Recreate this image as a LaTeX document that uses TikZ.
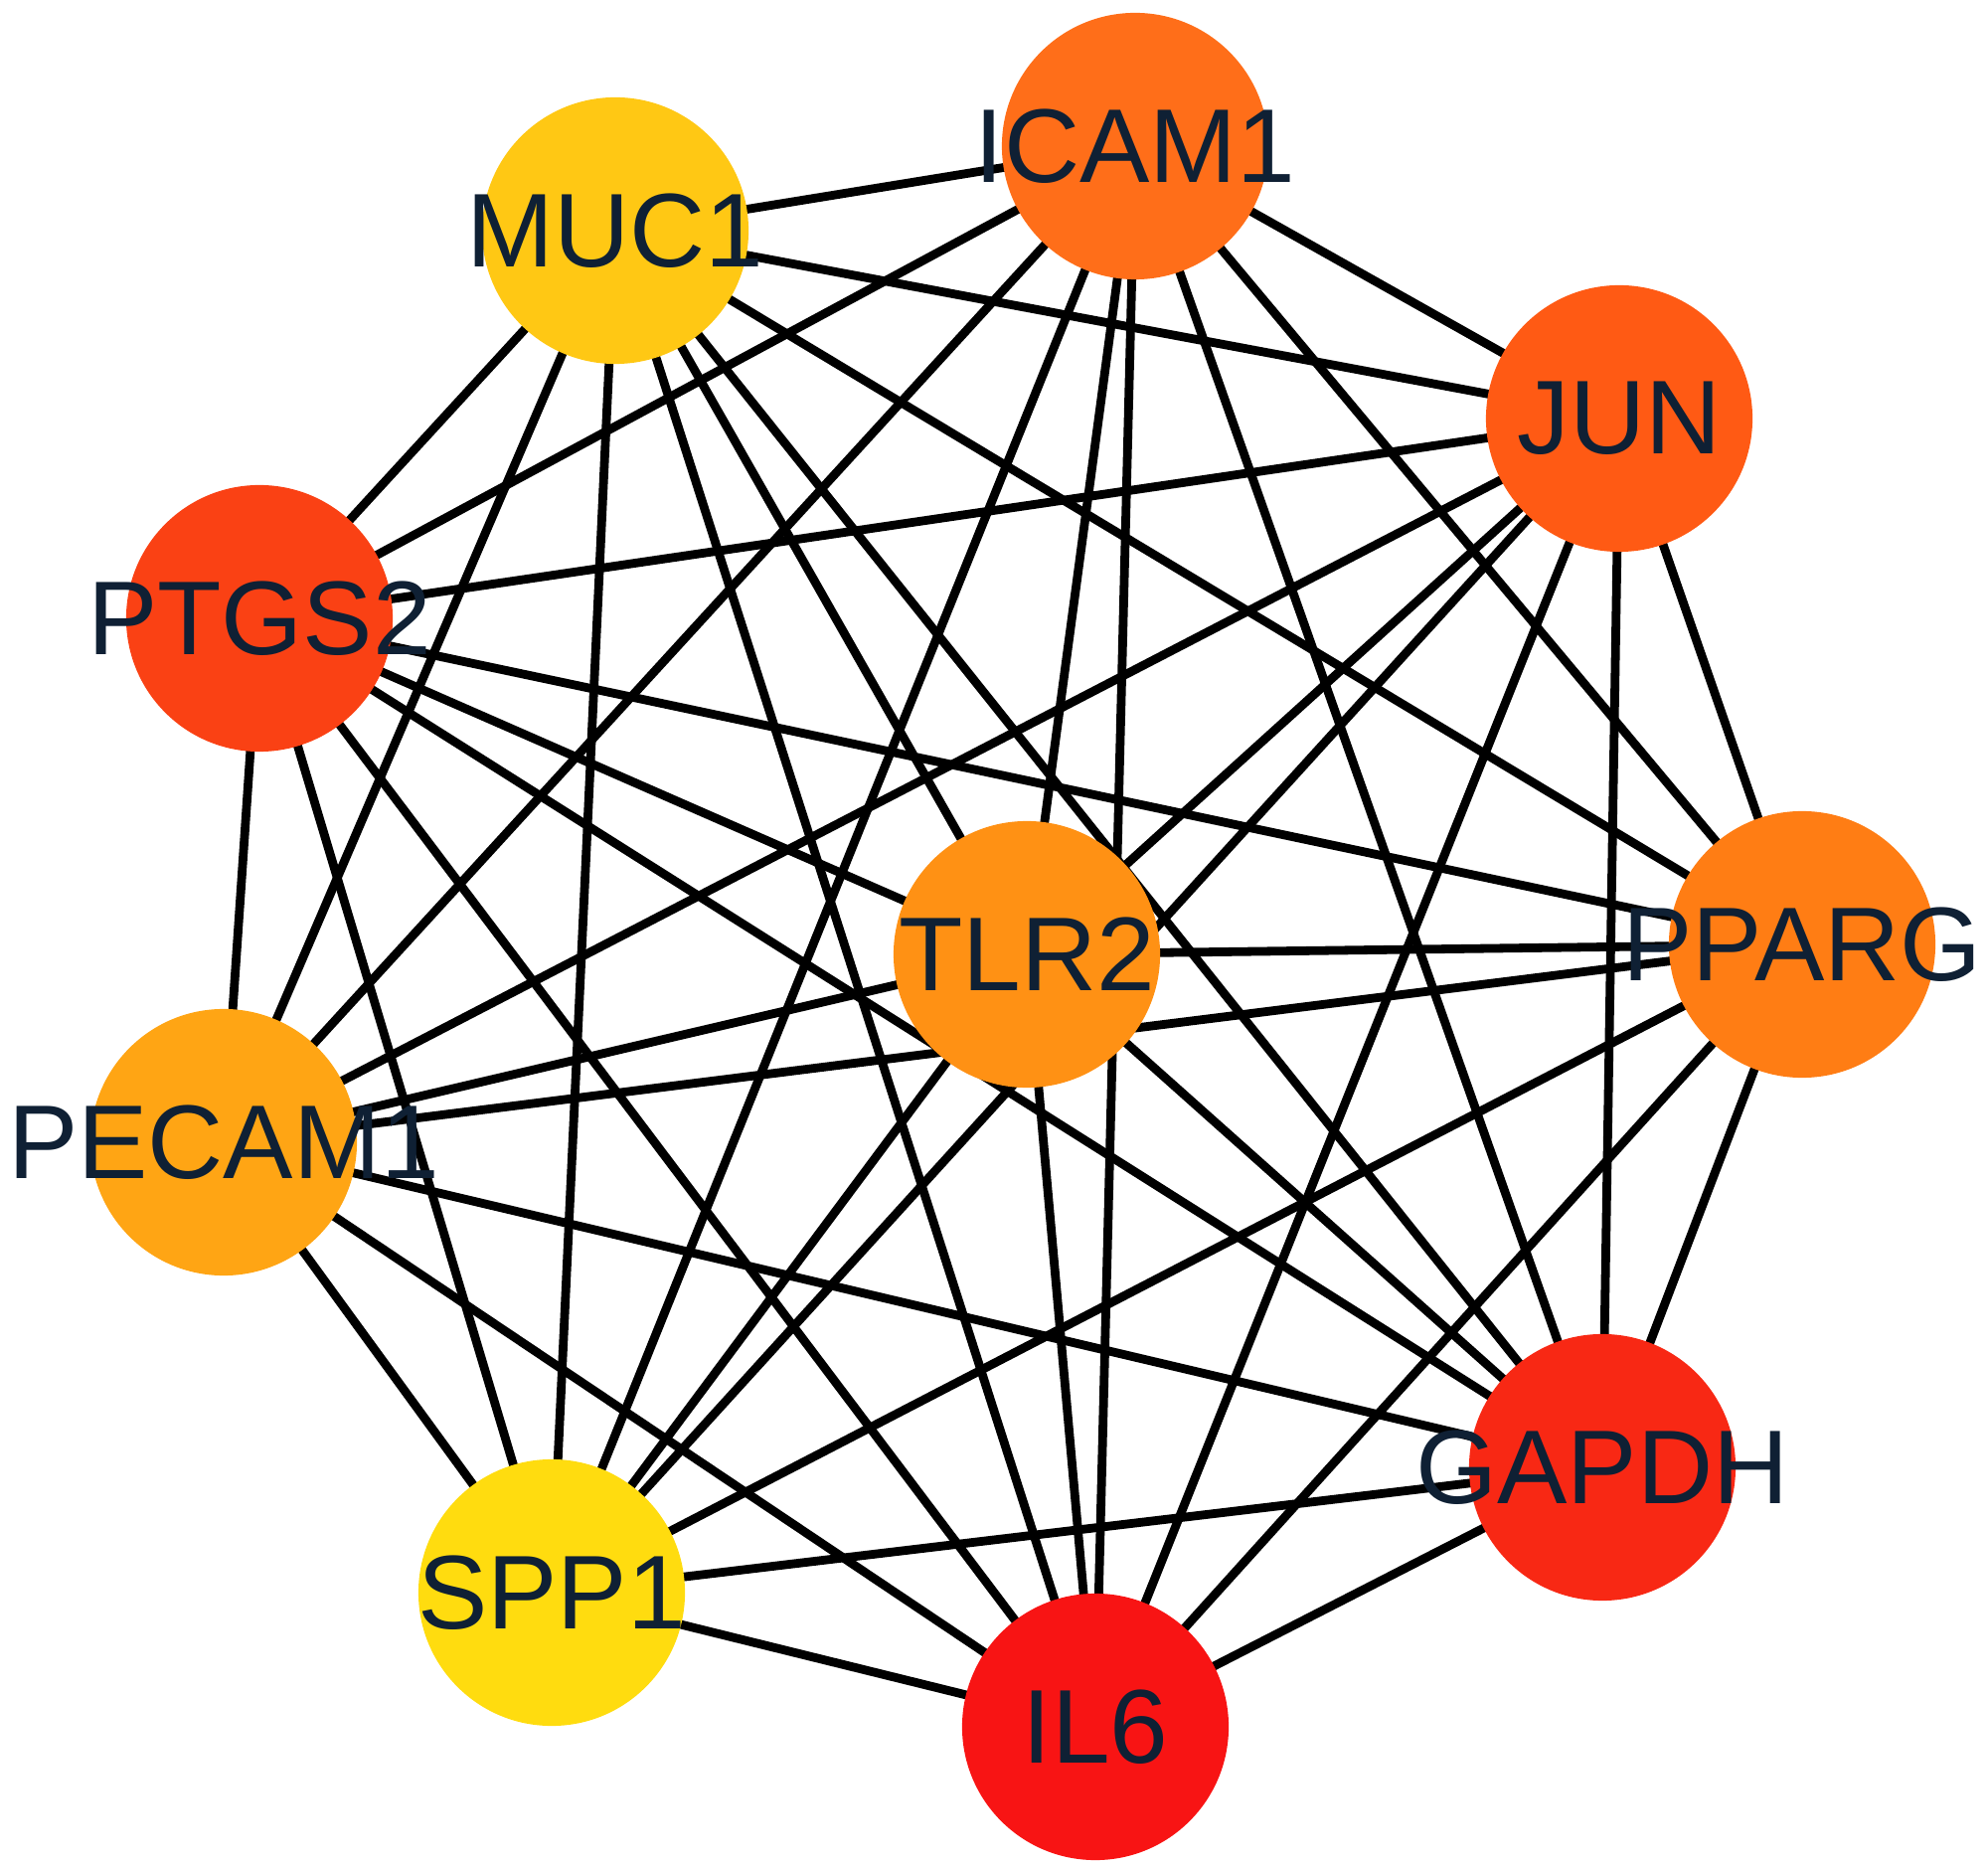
\documentclass[tikz,border=0pt]{standalone}
\usepackage{fontspec}
\setmainfont{Liberation Sans}
\definecolor{txt}{RGB}{15,32,52}
\definecolor{cMUC}{RGB}{255,200,20}
\definecolor{cICAM}{RGB}{255,110,25}
\definecolor{cJUN}{RGB}{255,90,20}
\definecolor{cPTGS}{RGB}{250,65,20}
\definecolor{cTLR}{RGB}{255,145,20}
\definecolor{cPPARG}{RGB}{255,125,20}
\definecolor{cPECAM}{RGB}{255,165,20}
\definecolor{cGAPDH}{RGB}{248,40,20}
\definecolor{cSPP}{RGB}{255,220,15}
\definecolor{cIL}{RGB}{248,20,20}
\begin{document}
\begin{tikzpicture}[x=0.01cm,y=-0.01cm,
  gene/.style={circle,minimum size=2.68cm,inner sep=0pt},
  lbl/.style={text=txt,font=\fontsize{30}{32}\selectfont},
  edge/.style={line width=2.5pt,black}]
\useasboundingbox (0,0) rectangle (2000,1877);
\coordinate (MUC1) at (619,232);
\coordinate (ICAM1) at (1142,147);
\coordinate (JUN) at (1629,421);
\coordinate (PTGS2) at (261,622);
\coordinate (TLR2) at (1033,960);
\coordinate (PPARG) at (1813,950);
\coordinate (PECAM1) at (225,1149);
\coordinate (GAPDH) at (1612,1476);
\coordinate (SPP1) at (555,1602);
\coordinate (IL6) at (1102,1737);
\foreach \a/\blist in {MUC1/{ICAM1,JUN,PTGS2,TLR2,PPARG,PECAM1,GAPDH,SPP1,IL6},
  ICAM1/{JUN,PTGS2,TLR2,PPARG,PECAM1,GAPDH,SPP1,IL6},
  JUN/{PTGS2,TLR2,PPARG,PECAM1,GAPDH,SPP1,IL6},
  PTGS2/{TLR2,PPARG,PECAM1,GAPDH,SPP1,IL6},
  TLR2/{PPARG,PECAM1,GAPDH,SPP1,IL6},
  PPARG/{PECAM1,GAPDH,SPP1,IL6},
  PECAM1/{GAPDH,SPP1,IL6},
  GAPDH/{SPP1,IL6},
  SPP1/{IL6}}{
  \foreach \b in \blist {\draw[edge] (\a) -- (\b);}
}
\node[gene,fill=cMUC] (nMUC1) at (MUC1) {};
\node[gene,fill=cICAM] (nICAM1) at (ICAM1) {};
\node[gene,fill=cJUN] (nJUN) at (JUN) {};
\node[gene,fill=cPTGS] (nPTGS2) at (PTGS2) {};
\node[gene,fill=cTLR] (nTLR2) at (TLR2) {};
\node[gene,fill=cPPARG] (nPPARG) at (PPARG) {};
\node[gene,fill=cPECAM] (nPECAM1) at (PECAM1) {};
\node[gene,fill=cGAPDH] (nGAPDH) at (GAPDH) {};
\node[gene,fill=cSPP] (nSPP1) at (SPP1) {};
\node[gene,fill=cIL] (nIL6) at (IL6) {};
\node[lbl] (tMUC1) at (MUC1) {MUC1};
\node[lbl] (tICAM1) at (ICAM1) {ICAM1};
\node[lbl] (tJUN) at (JUN) {JUN};
\node[lbl] (tPTGS2) at (PTGS2) {PTGS2};
\node[lbl] (tTLR2) at (TLR2) {TLR2};
\node[lbl] (tPPARG) at (PPARG) {PPARG};
\node[lbl] (tPECAM1) at (PECAM1) {PECAM1};
\node[lbl] (tGAPDH) at (GAPDH) {GAPDH};
\node[lbl] (tSPP1) at (SPP1) {SPP1};
\node[lbl] (tIL6) at (IL6) {IL6};
\end{tikzpicture}
\end{document}
